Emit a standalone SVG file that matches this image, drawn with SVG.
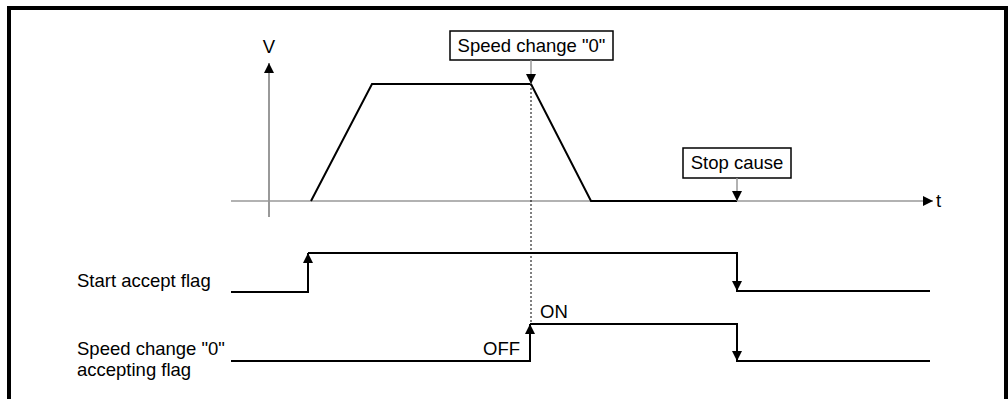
<svg xmlns="http://www.w3.org/2000/svg" width="1008" height="399" viewBox="0 0 1008 399">
<style>
text{font-family:"Liberation Sans",Arial,sans-serif;font-size:18.5px;fill:#000}
.sig{fill:none;stroke:#000;stroke-width:2}
.axis{fill:none;stroke:#999;stroke-width:1.5}
.box{fill:#fff;stroke:#000;stroke-width:1.5}
</style>
<defs>
<marker id="ah" viewBox="0 0 10 10" refX="10" refY="5" markerWidth="10" markerHeight="10" markerUnits="userSpaceOnUse" orient="auto">
<path d="M0,0 L10,5 L0,10 Z" fill="#000"/>
</marker>
</defs>
<rect x="9" y="8" width="997" height="400" fill="none" stroke="#000" stroke-width="4"/>
<g id="axes">
<line x1="269" y1="217" x2="269" y2="63" stroke="#555" stroke-width="1.2" marker-end="url(#ah)"/>
<text x="269" y="53" text-anchor="middle">V</text>
<line class="axis" x1="231" y1="201" x2="933" y2="201" marker-end="url(#ah)"/>
<text x="936" y="207">t</text>
</g>
<g id="profile">
<polyline class="sig" points="311,201 372,84 531,84 591,201 737,201"/>
<line x1="531" y1="84" x2="531" y2="323" stroke="#000" stroke-width="1" stroke-dasharray="2,2"/>
</g>
<g id="speed-change-box">
<rect class="box" x="450" y="31" width="163" height="29"/>
<text x="531.5" y="52" text-anchor="middle">Speed change "0"</text>
</g>
<g id="stop-cause-box">
<rect class="box" x="683" y="148" width="108" height="30"/>
<text x="737" y="169" text-anchor="middle">Stop cause</text>
</g>
<g id="connectors">
<line x1="531" y1="60" x2="531" y2="84" stroke="#999" stroke-width="1.5" marker-end="url(#ah)"/>
<line x1="737" y1="178" x2="737" y2="201" stroke="#999" stroke-width="1.5" marker-end="url(#ah)"/>
<polyline class="sig" points="231,292 308,292 308,253"/>
<line x1="308" y1="262" x2="308" y2="253" stroke="#000" stroke-width="2" marker-end="url(#ah)"/>
<polyline class="sig" points="308,253 737,253 737,291 930,291"/>
<line x1="737" y1="280" x2="737" y2="291" stroke="#000" stroke-width="2" marker-end="url(#ah)"/>
<polyline class="sig" points="231,361 530,361 530,324"/>
<line x1="530" y1="333" x2="530" y2="324" stroke="#000" stroke-width="2" marker-end="url(#ah)"/>
<polyline class="sig" points="530,324 737,324 737,361 930,361"/>
<line x1="737" y1="350" x2="737" y2="361" stroke="#000" stroke-width="2" marker-end="url(#ah)"/>
</g>
<g id="labels">
<text x="77" y="287">Start accept flag</text>
<text x="77" y="355">Speed change "0"</text>
<text x="77" y="376">accepting flag</text>
<text x="540" y="318">ON</text>
<text x="520" y="355" text-anchor="end">OFF</text>
</g>
</svg>
